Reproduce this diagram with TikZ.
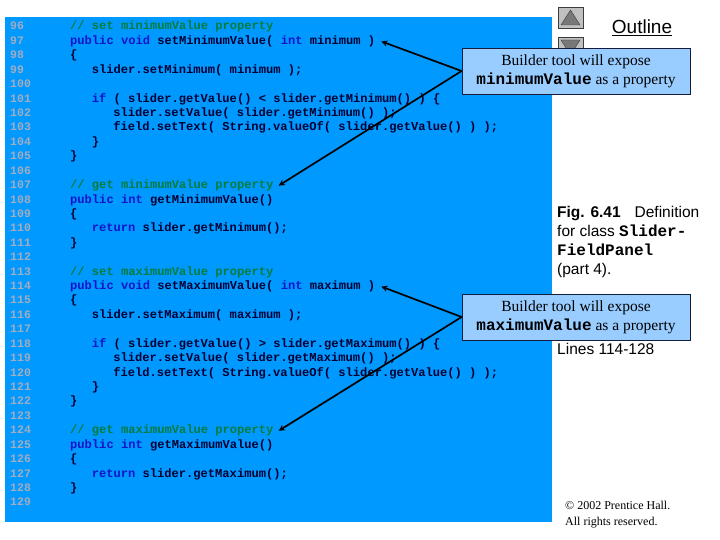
\documentclass[tikz,border=0pt]{standalone}
\usepackage{fontspec}
\setmainfont{Liberation Serif}
\setsansfont{Liberation Sans}
\setmonofont{Liberation Mono}
\usetikzlibrary{arrows,positioning}

\definecolor{panelblue}{RGB}{0,153,255}
\definecolor{numgrey}{RGB}{165,172,190}
\definecolor{codeink}{RGB}{0,0,50}
\definecolor{kwblue}{RGB}{20,20,200}
\definecolor{cmtgreen}{RGB}{0,125,60}
\definecolor{tipblue}{RGB}{153,204,255}
\definecolor{tipedge}{RGB}{20,30,60}
\definecolor{btngrey}{RGB}{192,192,192}
\definecolor{btnedge}{RGB}{60,60,60}
\definecolor{trigrey}{RGB}{120,120,120}

\newcommand{\kw}[1]{\textcolor{kwblue}{#1}}
\newcommand{\cmt}[1]{\textcolor{cmtgreen}{#1}}
\newcommand{\mono}[1]{{\ttfamily\bfseries\fontsize{16}{19}\selectfont #1}}

\begin{document}
\begin{tikzpicture}[
    x=1pt, y=-1pt,
    lnum/.style={anchor=west, inner sep=0pt, text height=8pt, text depth=2pt, text=numgrey, font=\ttfamily\bfseries\fontsize{11.5}{12}\selectfont},
    code/.style={anchor=west, inner sep=0pt, text height=8pt, text depth=2pt, text=codeink, font=\ttfamily\bfseries\fontsize{12.1}{14}\selectfont},
    tip/.style={rectangle, draw=tipedge, line width=0.8pt, fill=tipblue, minimum width=228pt, minimum height=46pt, align=center, inner sep=2pt, font=\fontsize{15.5}{19}\selectfont},
    arrow/.style={->, >=stealth, line width=1.7pt}
]
\useasboundingbox (0,0) rectangle (720,540);

% code panel
\fill[panelblue] (5,17) rectangle (552,522);

\coordinate (ind0) at (70,0);
\coordinate (ind1) at (91.6,0);
\coordinate (ind2) at (113.2,0);

\foreach \n in {96,...,129}
    \node[lnum] (ln\n) at (10,{27+(\n-96)*14.42}) {\n};

\node[code] (c96) at (ind0 |- ln96) {\cmt{// set minimumValue property}};
\node[code] (c97) at (ind0 |- ln97) {\kw{public void} setMinimumValue( \kw{int} minimum )};
\node[code] (c98) at (ind0 |- ln98) {\{};
\node[code] (c99) at (ind1 |- ln99) {slider.setMinimum( minimum );};
\node[code] (c101) at (ind1 |- ln101) {\kw{if} ( slider.getValue() < slider.getMinimum() ) \{};
\node[code] (c102) at (ind2 |- ln102) {slider.setValue( slider.getMinimum() );};
\node[code] (c103) at (ind2 |- ln103) {field.setText( String.valueOf( slider.getValue() ) );};
\node[code] (c104) at (ind1 |- ln104) {\}};
\node[code] (c105) at (ind0 |- ln105) {\}};

\node[code] (c107) at (ind0 |- ln107) {\cmt{// get minimumValue property}};
\node[code] (c108) at (ind0 |- ln108) {\kw{public int} getMinimumValue()};
\node[code] (c109) at (ind0 |- ln109) {\{};
\node[code] (c110) at (ind1 |- ln110) {\kw{return} slider.getMinimum();};
\node[code] (c111) at (ind0 |- ln111) {\}};

\node[code] (c113) at (ind0 |- ln113) {\cmt{// set maximumValue property}};
\node[code] (c114) at (ind0 |- ln114) {\kw{public void} setMaximumValue( \kw{int} maximum )};
\node[code] (c115) at (ind0 |- ln115) {\{};
\node[code] (c116) at (ind1 |- ln116) {slider.setMaximum( maximum );};
\node[code] (c118) at (ind1 |- ln118) {\kw{if} ( slider.getValue() > slider.getMaximum() ) \{};
\node[code] (c119) at (ind2 |- ln119) {slider.setValue( slider.getMaximum() );};
\node[code] (c120) at (ind2 |- ln120) {field.setText( String.valueOf( slider.getValue() ) );};
\node[code] (c121) at (ind1 |- ln121) {\}};
\node[code] (c122) at (ind0 |- ln122) {\}};

\node[code] (c124) at (ind0 |- ln124) {\cmt{// get maximumValue property}};
\node[code] (c125) at (ind0 |- ln125) {\kw{public int} getMaximumValue()};
\node[code] (c126) at (ind0 |- ln126) {\{};
\node[code] (c127) at (ind1 |- ln127) {\kw{return} slider.getMaximum();};
\node[code] (c128) at (ind0 |- ln128) {\}};

% navigation buttons
\draw[fill=btngrey, draw=btnedge] (558,7) rectangle (583,28);
\draw[fill=trigrey, draw=btnedge] (561,25) -- (570.5,10) -- (580,25) -- cycle;
\draw[fill=btngrey, draw=btnedge] (558,37) rectangle (583,58);
\draw[fill=trigrey, draw=btnedge] (561,40) -- (580,40) -- (570.5,55) -- cycle;

\node[font=\sffamily\fontsize{19}{22}\selectfont] (outline) at (642,28) {\underline{Outline}};

% callouts
\node[tip] (tip1) at (576,71) {Builder tool will expose\\ \mono{minimumValue} as a property};
\node[tip] (tip2) at (576,317) {Builder tool will expose\\ \mono{maximumValue} as a property};

\draw[arrow] (tip1.west) -- ([xshift=6pt]c97.east);
\draw[arrow] (tip1.west) -- ([xshift=5pt]c107.east);
\draw[arrow] (tip2.west) -- ([xshift=6pt]c114.east);
\draw[arrow] (tip2.west) -- ([xshift=5pt]c124.east);

% side texts
\node[anchor=north west, align=left, inner sep=0pt, font=\sffamily\fontsize{15.5}{19}\selectfont] (caption) at (557,206)
    {\textbf{Fig. 6.41}\hspace{14pt}Definition\\ for class \mono{Slider-}\\ \mono{FieldPanel}\\ (part 4).};
\node[anchor=west, inner sep=0pt, font=\sffamily\fontsize{15.5}{19}\selectfont] (lines) at (557,349) {Lines 114-128};
\node[anchor=north west, align=left, inner sep=0pt, font=\fontsize{12}{16}\selectfont] (copy) at (565,501)
    {\textcopyright{} 2002 Prentice Hall.\\ All rights reserved.};

\end{tikzpicture}
\end{document}
